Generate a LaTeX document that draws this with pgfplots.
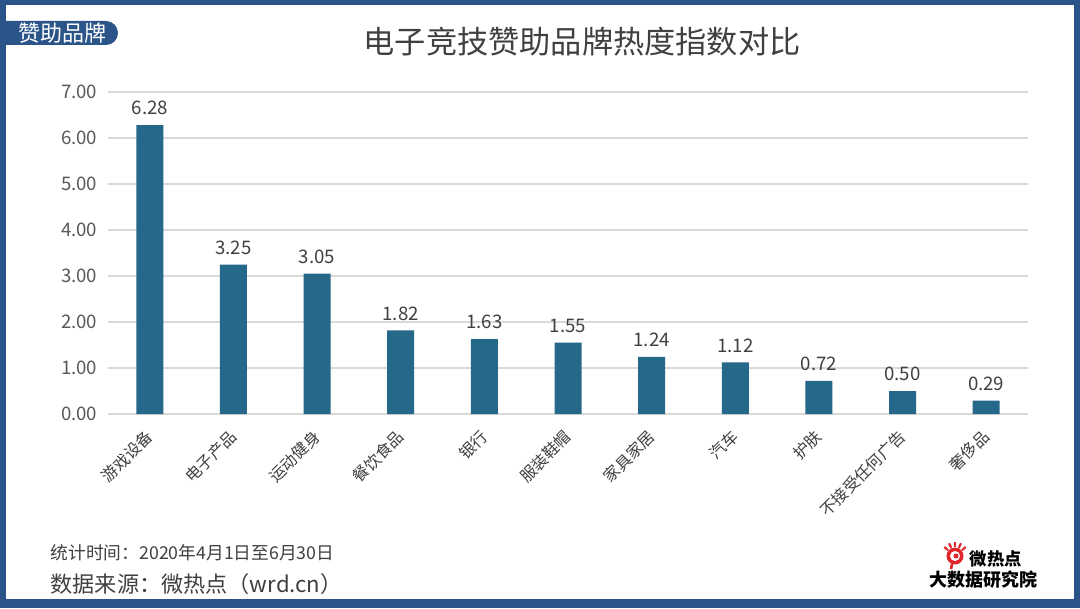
\documentclass[border=0pt]{standalone}
\usepackage{pgfplots}
\pgfplotsset{compat=1.18}
\usepackage{fontspec}
\setmainfont{Noto Sans CJK SC}
\definecolor{frameblue}{HTML}{2B5489}
\definecolor{barblue}{HTML}{266889}
\definecolor{txt}{HTML}{404040}
\definecolor{ticktxt}{HTML}{595959}
\definecolor{gridc}{HTML}{D9D9D9}
\definecolor{logored}{HTML}{E0262B}

\begin{document}
\begin{tikzpicture}
% frame, in pixels of the 1080x608 picture
\begin{scope}[x=0.75pt,y=0.75pt]
  \fill[frameblue] (0,0) rectangle (1080,608);
  \fill[white] (6,9) rectangle (1074,603);
  % tag top left
  \fill[frameblue] (6,563) -- (106,563) arc[start angle=-90,end angle=90,radius=12] -- (6,587) -- cycle;
  \node[white,font=\fontsize{16.5pt}{18pt}\selectfont] at (62,575) {赞助品牌};
  % title
  \node[txt,font=\fontsize{23.4pt}{26pt}\selectfont] at (582,566) {电子竞技赞助品牌热度指数对比};
  % footnotes
  \node[txt,anchor=west,font=\fontsize{13.3pt}{15pt}\selectfont] at (46,55) {统计时间：2020年4月1日至6月30日};
  \node[txt,anchor=west,font=\fontsize{16.6pt}{18pt}\selectfont] at (46,24) {数据来源：微热点（wrd.cn）};
  % logo
  \fill[logored] (955,52) circle (8.5);
  \fill[white] (955,52) circle (5);
  \fill[logored] (956,52) circle (2.5);
  \foreach \a in {40,65,90,115,140} \draw[logored,line width=1.6] (955,52)++(\a:9) -- ++(\a:5);
  \draw[logored,line width=2] (952,44) -- (951,39);
  \node[black,anchor=west,font=\bfseries\fontsize{13pt}{15pt}\selectfont] at (965,49) {微热点};
  \node[black,font=\bfseries\fontsize{13.5pt}{15pt}\selectfont] at (983,28) {大数据研究院};
\end{scope}

\begin{axis}[
  at={(81pt,145.5pt)}, anchor=south west,
  scale only axis, width=690pt, height=241.5pt,
  ybar, bar width=20.25pt,
  xmin=-0.5, xmax=10.5, ymin=0, ymax=7,
  axis line style={draw=none},
  tick style={draw=none},
  ymajorgrids, grid style={gridc, line width=0.8pt},
  ytick={0,1,...,7},
  xtick={0,...,10},
  xticklabels={游戏设备,电子产品,运动健身,餐饮食品,银行,服装鞋帽,家具家居,汽车,护肤,不接受任何广告,奢侈品},
  xticklabel style={xshift=2.5pt, yshift=-8.25pt, rotate=45, anchor=east, text=txt, font=\fontsize{12pt}{14pt}\selectfont},
  yticklabel style={text=ticktxt, font=\fontsize{14pt}{16pt}\selectfont, xshift=-4.5pt},
  /pgf/number format/assume math mode=true,
  yticklabel={\pgfmathprintnumber[fixed,fixed zerofill,precision=2]{\tick}},
  nodes near coords={\pgfmathprintnumber[fixed,fixed zerofill,precision=2]{\pgfplotspointmeta}},
  nodes near coords style={text=txt, font=\fontsize{14pt}{16pt}\selectfont, yshift=4pt},
  clip=false,
]
\addplot[draw=none, fill=barblue] coordinates {
  (0,6.28) (1,3.25) (2,3.05) (3,1.82) (4,1.63) (5,1.55)
  (6,1.24) (7,1.12) (8,0.72) (9,0.50) (10,0.29)};
\end{axis}
\pgfresetboundingbox
\useasboundingbox (0,0) rectangle (810pt,456pt);
\end{tikzpicture}
\end{document}
